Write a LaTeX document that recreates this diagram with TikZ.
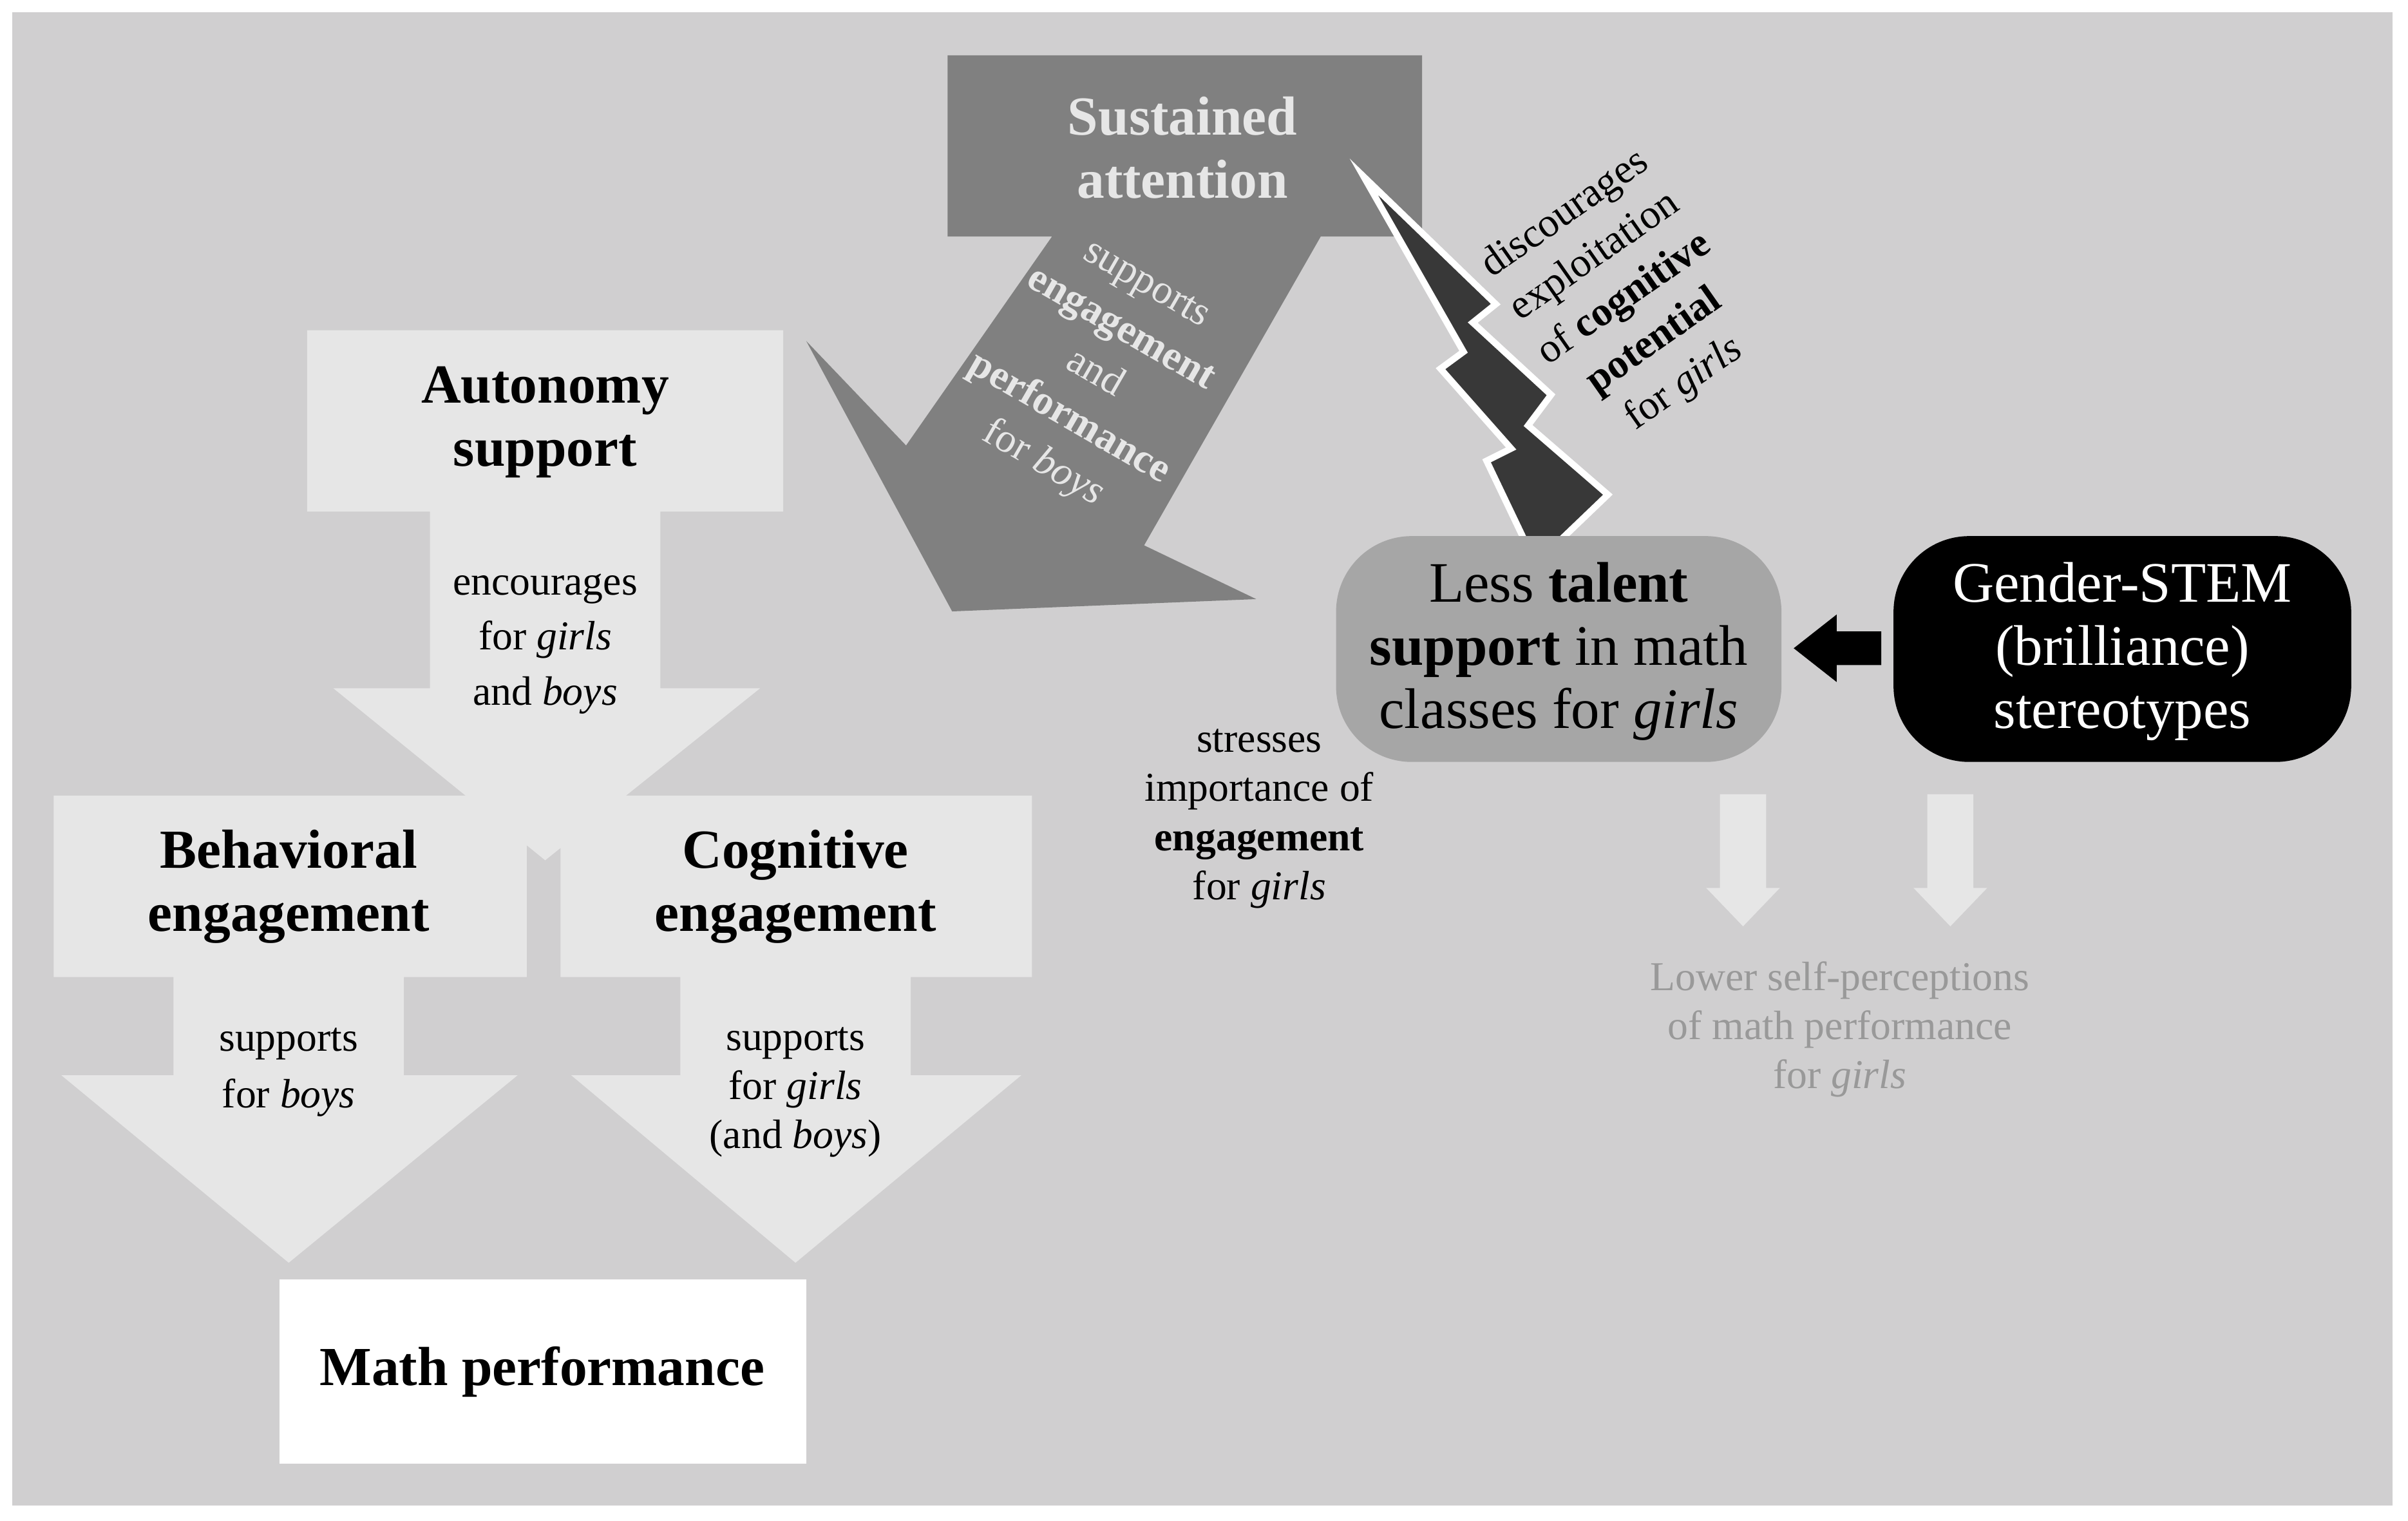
\documentclass[tikz,border=0pt]{standalone}
\usepackage{fontspec}
\setmainfont{LiberationSerif}[Extension=.ttf,UprightFont=*-Regular,BoldFont=*-Bold,ItalicFont=*-Italic,BoldItalicFont=*-BoldItalic]
\definecolor{bg}{HTML}{D0CFD0}
\definecolor{lt}{HTML}{E6E6E6}
\definecolor{dk}{HTML}{808080}
\definecolor{mid}{HTML}{A6A6A6}
\definecolor{bolt}{HTML}{383838}
\definecolor{gtx}{HTML}{999999}
\begin{document}
\begin{tikzpicture}[x=0.1mm,y=-0.1mm,
  big/.style={align=center,font=\fontsize{10.2}{11.7}\selectfont\bfseries},
  med/.style={align=center,font=\fontsize{10.6}{11.7}\selectfont},
  sm/.style={align=center,font=\fontsize{7.6}{9.1}\selectfont}]
\useasboundingbox (0,0) rectangle (1568,990);
\fill[white] (0,0) rectangle (1568,990);
\fill[bg] (8,8) rectangle (1558,980);
% sustained attention arrow
\fill[dk] (617,36)--(926,36)--(926,154)--(860,154)--(745,355)--(818,390)--(620,398)--(525,222)--(590,290)--(685,154)--(617,154)--cycle;
\node[big,text=lt] (sa) at (770,96) {Sustained\\attention};
\node[sm,text=lt,rotate=-30,font=\fontsize{7.6}{9.6}\selectfont] (sat) at (712,245) {supports\\\textbf{engagement}\\and\\\textbf{performance}\\for \textit{boys}};
% bolt
\fill[bolt,draw=white,line width=1.2pt,line join=miter] (888,115)--(974,198)--(959,210)--(1010,257)--(995,277)--(1047,322)--(1000,367)--(968,300)--(984,292)--(938,240)--(953,229)--cycle;
\node[sm,rotate=35,font=\fontsize{7.6}{9.6}\selectfont] (bt) at (1058,195) {discourages\\exploitation\\of \textbf{cognitive}\\\textbf{potential}\\for \textit{girls}};
% autonomy arrow
\fill[lt] (200,215)--(510,215)--(510,333)--(430,333)--(430,448)--(495,448)--(355,560)--(217,448)--(280,448)--(280,333)--(200,333)--cycle;
\node[big] (au) at (355,275) {Autonomy\\support};
\node[sm,font=\fontsize{7.6}{10.2}\selectfont] (aut) at (355,419) {encourages\\for \textit{girls}\\and \textit{boys}};
% behavioral
\fill[lt] (35,518)--(343,518)--(343,636)--(263,636)--(263,700)--(337,700)--(188,822)--(40,700)--(113,700)--(113,636)--(35,636)--cycle;
\node[big] (be) at (188,577) {Behavioral\\engagement};
\node[sm,font=\fontsize{7.6}{10.6}\selectfont] (bet) at (188,698) {supports\\for \textit{boys}};
% cognitive
\fill[lt] (365,518)--(672,518)--(672,636)--(593,636)--(593,700)--(665,700)--(518,822)--(372,700)--(443,700)--(443,636)--(365,636)--cycle;
\node[big] (ce) at (518,577) {Cognitive\\engagement};
\node[sm] (cet) at (518,711) {supports\\for \textit{girls}\\(and \textit{boys})};
% math performance
\fill[white] (182,833) rectangle (525,953);
\node[big] (mp) at (353,893) {Math performance};
% less talent
\fill[mid,rounded corners=14] (870,349) rectangle (1160,496);
\node[med] (lt) at (1015,424) {Less \textbf{talent}\\\textbf{support} in math\\classes for \textit{girls}};
\fill[black,rounded corners=14] (1233,349) rectangle (1531,496);
\node[med,text=white] (gs) at (1382,424) {Gender-STEM\\(brilliance)\\stereotypes};
\fill[black] (1225,411)--(1196,411)--(1196,400)--(1168,422)--(1196,444)--(1196,433)--(1225,433)--cycle;
\node[sm] (st) at (820,533) {stresses\\importance of\\\textbf{engagement}\\for \textit{girls}};
% small arrows
\foreach \cx in {1135,1270}{
\fill[lt] (\cx-15,517)--(\cx+15,517)--(\cx+15,578)--(\cx+24,578)--(\cx,603)--(\cx-24,578)--(\cx-15,578)--cycle;}
\node[sm,text=gtx] (lo) at (1198,670) {Lower self-perceptions\\of math performance\\for \textit{girls}};
\end{tikzpicture}
\end{document}
